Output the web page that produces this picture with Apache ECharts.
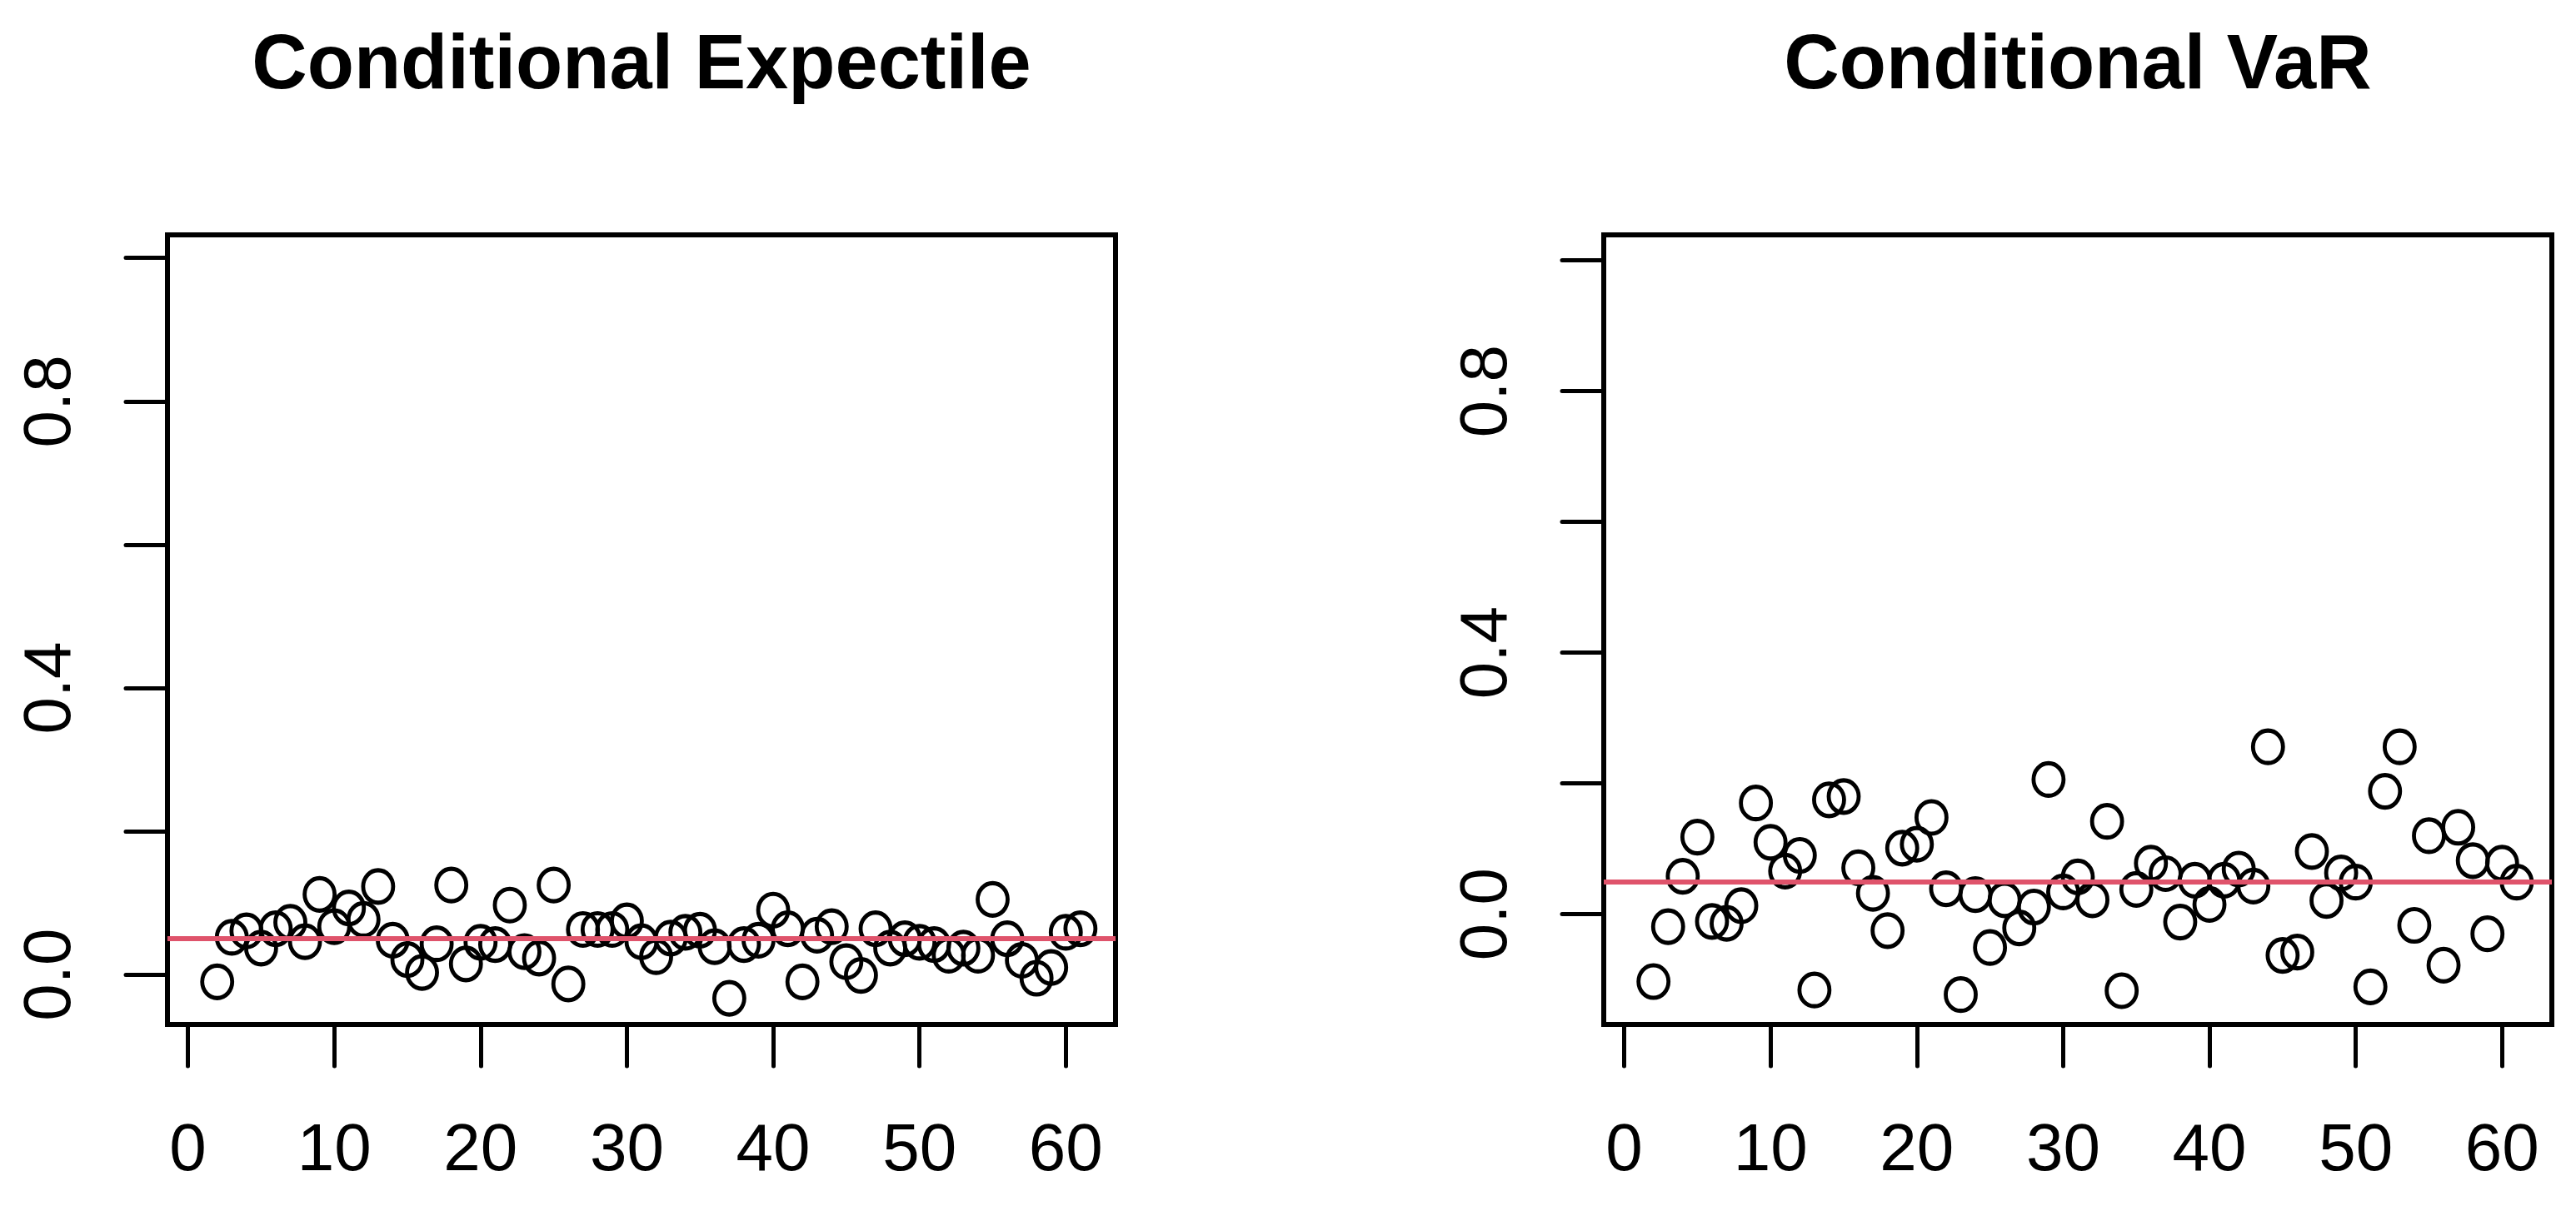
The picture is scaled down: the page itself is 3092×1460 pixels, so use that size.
<!DOCTYPE html>
<html>
<head>
<meta charset="utf-8">
<script src="https://cdn.jsdelivr.net/npm/echarts@6/dist/echarts.min.js"></script>
<style>
  html, body { margin: 0; padding: 0; background: #fff; }
  #chart { width: 3092px; height: 1460px; }
</style>
</head>
<body>
<div id="chart"></div>
<script>
// ---- data ----
const titles = ['Conditional Expectile', 'Conditional VaR'];
const obsIndex = [2,3,4,5,6,7,8,9,10,11,12,13,14,15,16,17,18,19,20,21,
                  22,23,24,25,26,27,28,29,30,31,32,33,34,35,36,37,38,39,40,41,
                  42,43,44,45,46,47,48,49,50,51,52,53,54,55,56,57,58,59,60,61];
const expectileValues = [-0.010,0.052,0.061,0.037,0.064,0.073,0.046,0.112,0.067,0.093,
                         0.077,0.123,0.048,0.021,0.003,0.043,0.125,0.015,0.045,0.042,
                         0.097,0.032,0.023,0.125,-0.013,0.063,0.063,0.063,0.075,0.046,
                         0.025,0.051,0.059,0.062,0.039,-0.033,0.042,0.048,0.090,0.064,
                         -0.010,0.055,0.067,0.018,-0.001,0.064,0.037,0.050,0.045,0.042,
                         0.027,0.037,0.027,0.105,0.050,0.020,-0.005,0.010,0.059,0.064];
const varValues = [-0.103,-0.019,0.058,0.118,-0.011,-0.014,0.013,0.170,0.110,0.066,
                   0.090,-0.116,0.175,0.180,0.071,0.032,-0.025,0.101,0.107,0.148,
                   0.039,-0.123,0.030,-0.051,0.022,-0.021,0.011,0.206,0.034,0.057,
                   0.022,0.142,-0.117,0.038,0.078,0.062,-0.012,0.052,0.015,0.052,
                   0.069,0.043,0.256,-0.063,-0.058,0.096,0.021,0.063,0.049,-0.111,
                   0.188,0.256,-0.017,0.120,-0.078,0.133,0.082,-0.030,0.078,0.049];
const referenceLevel = 0.05;
const xTicks = [0,10,20,30,40,50,60];
const yTicks = [0,0.2,0.4,0.6,0.8,1.0];
const yTickLabels = [0,0.4,0.8];

// ---- layout / style ----
const panels = [
  { left: 201, right: 1753, center: 770, ymin: -0.0695, ymax: 1.0322, values: expectileValues },
  { left: 1925, right: 29, center: 2494, ymin: -0.1686, ymax: 1.0391, values: varValues }
];
const FONT = '"Liberation Sans", Arial, Helvetica, sans-serif';
const RED = '#DF536B';

const chart = echarts.init(document.getElementById('chart'), null, { renderer: 'canvas' });

const option = {
  backgroundColor: '#ffffff',
  animation: false,
  title: panels.map((p, i) => ({
    text: titles[i],
    left: p.center,
    top: 35,
    textAlign: 'center',
    padding: 0,
    textStyle: { fontFamily: FONT, fontWeight: 'bold', fontSize: 92, color: '#000', lineHeight: 92 }
  })),
  grid: panels.map(p => ({
    left: p.left, right: p.right, top: 282, bottom: 230,
    show: true, borderColor: '#000', borderWidth: 6, backgroundColor: 'transparent'
  })),
  xAxis: panels.map((p, i) => ({
    type: 'value', gridIndex: i, min: -1.4, max: 63.4,
    axisLine: { show: false, onZero: false },
    splitLine: { show: false },
    axisTick: { show: true, customValues: xTicks, length: 50, inside: false,
                lineStyle: { color: '#000', width: 5, cap: 'round' } },
    axisLabel: { show: true, customValues: xTicks, margin: 113,
                 fontFamily: FONT, fontSize: 80, lineHeight: 80, color: '#000' }
  })),
  yAxis: panels.map((p, i) => ({
    type: 'value', gridIndex: i, min: p.ymin, max: p.ymax,
    axisLine: { show: false, onZero: false },
    splitLine: { show: false },
    axisTick: { show: true, customValues: yTicks, length: 50, inside: false,
                lineStyle: { color: '#000', width: 5, cap: 'round' } },
    axisLabel: { show: true, customValues: yTickLabels, rotate: 90, margin: 99,
                 fontFamily: FONT, fontSize: 80, lineHeight: 80, color: '#000',
                 formatter: v => Number(v).toFixed(1) }
  })),
  series: []
};

panels.forEach((p, i) => {
  option.series.push({
    type: 'scatter', xAxisIndex: i, yAxisIndex: i, z: 2,
    symbol: 'circle', symbolSize: [36, 39],
    itemStyle: { color: 'rgba(0,0,0,0)', borderColor: '#000', borderWidth: 5, opacity: 1 },
    emphasis: { disabled: true },
    data: obsIndex.map((x, k) => [x, p.values[k]])
  });
  option.series.push({
    type: 'line', xAxisIndex: i, yAxisIndex: i, z: 5, data: [],
    markLine: {
      silent: true, symbol: ['none', 'none'], animation: false,
      label: { show: false },
      lineStyle: { color: RED, width: 6, type: 'solid' },
      data: [{ yAxis: referenceLevel }]
    }
  });
});

chart.setOption(option);
</script>
</body>
</html>
